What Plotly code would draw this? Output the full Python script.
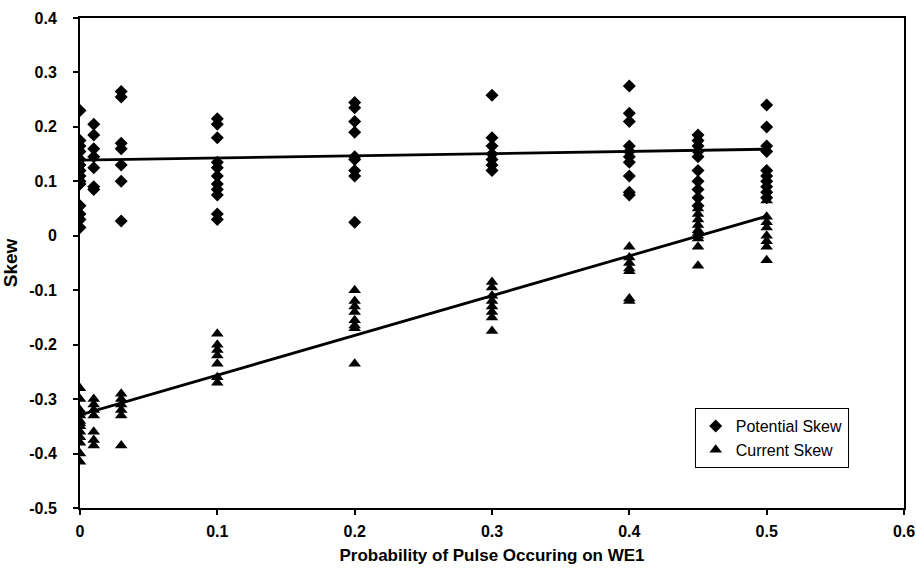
import numpy as np
import plotly.graph_objects as go

# Probability of a pulse on WE1 and the skew values measured at each setting
pot_x = [0.0] * 14 + [0.01] * 7 + [0.03] * 7 + [0.1] * 11 + [0.2] * 9 + [0.3] * 7 + [0.4] * 10 + [0.45] * 10 + [0.5] * 10
pot_y = [
    0.23, 0.175, 0.165, 0.155, 0.14, 0.13, 0.12, 0.11, 0.10, 0.095, 0.055, 0.04, 0.03, 0.015,
    0.205, 0.185, 0.16, 0.145, 0.125, 0.09, 0.085,
    0.265, 0.255, 0.17, 0.16, 0.13, 0.10, 0.027,
    0.215, 0.205, 0.18, 0.135, 0.125, 0.11, 0.095, 0.085, 0.075, 0.04, 0.03,
    0.245, 0.235, 0.21, 0.19, 0.145, 0.14, 0.12, 0.11, 0.025,
    0.258, 0.18, 0.165, 0.15, 0.14, 0.13, 0.12,
    0.275, 0.225, 0.21, 0.165, 0.155, 0.145, 0.135, 0.11, 0.08, 0.075,
    0.185, 0.175, 0.165, 0.155, 0.145, 0.12, 0.10, 0.085, 0.07, 0.055,
    0.24, 0.20, 0.165, 0.155, 0.12, 0.11, 0.10, 0.09, 0.08, 0.07,
]

cur_x = [0.0] * 13 + [0.01] * 7 + [0.03] * 6 + [0.1] * 7 + [0.2] * 8 + [0.3] * 8 + [0.4] * 7 + [0.45] * 10 + [0.5] * 8
cur_y = [
    -0.28, -0.30, -0.32, -0.325, -0.33, -0.34, -0.345, -0.35, -0.36, -0.37, -0.38, -0.40, -0.415,
    -0.30, -0.31, -0.32, -0.33, -0.36, -0.375, -0.385,
    -0.29, -0.30, -0.31, -0.32, -0.33, -0.385,
    -0.18, -0.20, -0.21, -0.22, -0.235, -0.26, -0.27,
    -0.10, -0.12, -0.13, -0.14, -0.155, -0.165, -0.17, -0.235,
    -0.085, -0.095, -0.11, -0.12, -0.13, -0.14, -0.15, -0.175,
    -0.02, -0.04, -0.05, -0.06, -0.065, -0.115, -0.12,
    0.05, 0.04, 0.03, 0.02, 0.01, 0.005, 0.0, -0.005, -0.02, -0.055,
    0.065, 0.035, 0.025, 0.015, 0.0, -0.01, -0.02, -0.045,
]

# Linear trend lines (intercept, slope) as shown on the chart, over 0 .. 0.5
pot_trend = (0.139, 0.040)
cur_trend = (-0.329, 0.730)
trend_x = np.array([0.0, 0.5])

fig = go.Figure()
for b0, b1 in (pot_trend, cur_trend):
    fig.add_trace(go.Scatter(
        x=trend_x, y=b0 + b1 * trend_x, mode="lines",
        line=dict(color="black", width=2.8), showlegend=False, hoverinfo="skip"))
fig.add_trace(go.Scatter(
    x=pot_x, y=pot_y, mode="markers", name="Potential Skew",
    marker=dict(symbol="diamond", size=10, color="black")))
fig.add_trace(go.Scatter(
    x=cur_x, y=cur_y, mode="markers", name="Current Skew",
    marker=dict(symbol="triangle-up", size=11, color="black")))

family = "Liberation Sans, Arial, sans-serif"
axis_font = dict(family=family, size=16, color="black", weight="bold")
common = dict(
    showgrid=False, zeroline=False, showline=True, linecolor="black", linewidth=2,
    mirror=True, ticks="outside", ticklen=5, tickwidth=1.5, tickcolor="black",
    tickfont=axis_font, ticklabeloverflow="allow", automargin=False,
)
fig.update_layout(
    width=916, height=573,
    margin=dict(l=80, r=12, t=18, b=65),
    paper_bgcolor="white", plot_bgcolor="white",
    font=dict(family=family, color="black"),
    xaxis=dict(
        range=[0, 0.6], tickvals=[0, 0.1, 0.2, 0.3, 0.4, 0.5, 0.6],
        ticktext=["0", "0.1", "0.2", "0.3", "0.4", "0.5", "0.6"],
        ticklabelstandoff=3,
        title=dict(text="Probability of Pulse Occuring on WE1", standoff=10,
                   font=dict(family=family, size=17, color="black", weight="bold")),
        **common,
    ),
    yaxis=dict(
        range=[-0.5, 0.4], tickvals=[-0.5, -0.4, -0.3, -0.2, -0.1, 0, 0.1, 0.2, 0.3, 0.4],
        ticktext=["-0.5", "-0.4", "-0.3", "-0.2", "-0.1", "0", "0.1", "0.2", "0.3", "0.4"],
        ticklabelstandoff=13,
        title=dict(text="Skew", standoff=8,
                   font=dict(family=family, size=19, color="black", weight="bold")),
        **common,
    ),
    legend=dict(
        x=0.746, y=0.204, xanchor="left", yanchor="top",
        bgcolor="white", bordercolor="black", borderwidth=1,
        font=dict(family=family, size=16, color="black"),
        itemwidth=30, tracegroupgap=0,
    ),
    showlegend=True,
)

fig.write_html("out.html")
